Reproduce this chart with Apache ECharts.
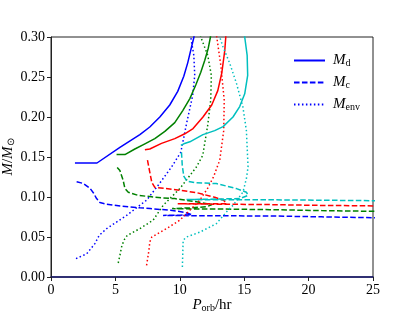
<!DOCTYPE html>
<html><head><meta charset="utf-8">
<script src="https://cdn.jsdelivr.net/npm/echarts@6/dist/echarts.min.js"></script>
<style>html,body{margin:0;padding:0;background:#fff}#c{width:415px;height:311px}</style>
</head><body><div id="c"></div>
<script>
// x ticks / y ticks
const xTicks = [0, 5, 10, 15, 20, 25];
const yTicks = [0.00, 0.05, 0.10, 0.15, 0.20, 0.25, 0.30];

// Blue track
const blueMd = [[1.86,0.1425],[3.57,0.1425],[5.35,0.162],[6.9,0.178],[7.67,0.1875],[8.45,0.200],[9.22,0.215],[9.84,0.232],[10.31,0.251],[10.62,0.268],[10.91,0.2875],[11.1,0.30],[11.16,0.306]];
const blueMc = [[1.99,0.119],[2.5,0.117],[3.02,0.111],[3.3,0.105],[3.54,0.098],[3.8,0.093],[4.3,0.091],[5.5,0.0885],[6.9,0.0865],[7.7,0.0855],[9.3,0.0834],[10.3,0.081],[10.95,0.078],[10.0,0.0772],[8.7,0.077],[9.5,0.0768],[13,0.0765],[17,0.0763],[21,0.0752],[25.5,0.074]];
const blueMenv = [[1.94,0.023],[2.77,0.029],[3.41,0.0417],[3.74,0.052],[4.32,0.0605],[5.87,0.077],[7.42,0.096],[8.32,0.1146],[9.36,0.1375],[10.08,0.156],[10.54,0.193],[11.0,0.227],[11.16,0.252],[11.09,0.277],[10.85,0.30],[10.8,0.306]];

// Green track
const greenMd = [[5.09,0.153],[5.74,0.153],[6.51,0.160],[7.29,0.1665],[8.06,0.173],[8.84,0.182],[9.61,0.193],[10.23,0.208],[10.78,0.223],[11.24,0.240],[11.63,0.256],[11.94,0.271],[12.21,0.286],[12.38,0.30],[12.42,0.306]];
const greenMc = [[5.14,0.137],[5.35,0.133],[5.6,0.121],[5.74,0.1105],[6.0,0.106],[6.77,0.102],[8.58,0.099],[9.61,0.098],[11.5,0.0935],[12.5,0.0905],[12.1,0.088],[11.0,0.0865],[9.4,0.0855],[10.5,0.0852],[14,0.0848],[17,0.0842],[21,0.083],[25.5,0.082]];
const greenMenv = [[5.22,0.0175],[5.35,0.027],[5.48,0.0375],[5.66,0.046],[5.92,0.052],[6.9,0.0605],[7.93,0.071],[8.71,0.0896],[10.0,0.1105],[11.29,0.1375],[11.78,0.152],[12.17,0.19],[12.4,0.221],[12.45,0.252],[12.17,0.277],[11.63,0.30],[11.55,0.306]];

// Red track
const redMd = [[7.29,0.159],[7.67,0.160],[8.58,0.167],[9.61,0.173],[10.39,0.179],[11.03,0.1855],[11.8,0.20],[12.48,0.215],[12.95,0.233],[13.26,0.255],[13.49,0.283],[13.57,0.30],[13.58,0.306]];
const redMc = [[7.49,0.146],[7.67,0.131],[7.83,0.118],[8.06,0.112],[9.46,0.1096],[11.3,0.1055],[12.71,0.0996],[13.41,0.096],[13.62,0.0915],[9.84,0.0915],[13,0.091],[16.97,0.0905],[21,0.0895],[25.5,0.0888]];
const redMenv = [[7.42,0.0146],[7.6,0.033],[7.67,0.0437],[7.83,0.05],[8.97,0.0605],[10.0,0.071],[10.78,0.0834],[11.55,0.096],[12.17,0.111],[12.64,0.126],[13.1,0.146],[13.41,0.183],[13.45,0.221],[13.18,0.265],[12.87,0.30],[12.8,0.306]];

// Cyan track
const cyanMd = [[10.08,0.1646],[10.31,0.1665],[10.78,0.169],[11.8,0.178],[12.71,0.183],[13.36,0.188],[14.13,0.200],[14.65,0.213],[15.04,0.229],[15.27,0.252],[15.23,0.277],[15.04,0.30],[15.0,0.306]];
const cyanMc = [[10.13,0.156],[10.19,0.1396],[10.31,0.126],[10.54,0.120],[11.16,0.118],[12.84,0.1168],[14.4,0.1105],[15.17,0.106],[15.3,0.102],[14.65,0.098],[10.52,0.0968],[13,0.0966],[16.98,0.0965],[21,0.096],[25.5,0.0953]];
const cyanMenv = [[10.2,0.0125],[10.26,0.046],[10.52,0.05],[11.55,0.056],[12.84,0.0667],[13.74,0.0834],[14.13,0.0896],[14.9,0.106],[15.17,0.123],[15.3,0.1375],[15.17,0.183],[14.9,0.2125],[14.4,0.242],[13.88,0.267],[13.36,0.2875],[13.1,0.30],[13.0,0.306]];

const legendNames = ['Md', 'Mc', 'Menv'];

const tracks = [
  {color:'#0000ff', md:blueMd, mc:blueMc, menv:blueMenv, legend:true},
  {color:'#008000', md:greenMd, mc:greenMc, menv:greenMenv},
  {color:'#ff0000', md:redMd, mc:redMc, menv:redMenv},
  {color:'#00bfbf', md:cyanMd, mc:cyanMc, menv:cyanMenv}
];
const dashes = {Md:'solid', Mc:[5.55,2.4], Menv:[1.5,2.475]};
const series = [];
tracks.forEach((t, k) => {
  [['Md', t.md], ['Mc', t.mc], ['Menv', t.menv]].forEach(([nm, d]) => {
    series.push({
      type:'line', name: t.legend ? nm : (nm + '_' + k), data:d, showSymbol:false, symbol:'none',
      smooth:false, clip:true, animation:false,
      lineStyle:{color:t.color, width:1.5, type:dashes[nm]},
      itemStyle:{color:t.color}, z:3
    });
  });
});

const serif = 'Liberation Serif';
const rich = {
  i:{fontFamily:serif, fontStyle:'italic', fontSize:15, color:'#000'},
  r:{fontFamily:serif, fontSize:15, color:'#000'},
  s:{fontFamily:serif, fontSize:10, color:'#000', padding:[6,0,0,0]}
};
const legendLabel = {Md:'{i|M}{s|d}', Mc:'{i|M}{s|c}', Menv:'{i|M}{s|env}'};

const chart = echarts.init(document.getElementById('c'), null, {renderer:'canvas'});
chart.setOption({
  animation:false,
  backgroundColor:'#fff',
  grid:{left:51, right:42, top:37, bottom:34, containLabel:false, outerBoundsMode:'none',
    show:true, borderColor:'#222', borderWidth:1, backgroundColor:'transparent'},
  legend:{data:legendNames, orient:'vertical', left:288, top:48, itemWidth:31, itemHeight:14, itemGap:6.5,
    itemStyle:{color:'rgba(0,0,0,0)', borderWidth:0, opacity:0},
    formatter:n => legendLabel[n], textStyle:{rich:rich, padding:[0,0,0,3]}},
  xAxis:{type:'value', min:xTicks[0], max:xTicks[xTicks.length-1], interval:5,
    name:'{i|P}{s|orb}{r|/hr}', nameLocation:'middle', nameGap:20, nameMoveOverlap:false, nameTextStyle:{rich:rich},
    axisLine:{show:true, onZero:false, lineStyle:{color:'#10106a', width:1.5}},
    axisTick:{show:true, inside:false, length:4, lineStyle:{color:'#222'}},
    axisLabel:{fontFamily:serif, fontSize:14, color:'#000', margin:6},
    splitLine:{show:false}},
  yAxis:{type:'value', min:yTicks[0], max:yTicks[yTicks.length-1], interval:0.05,
    name:'{i|M}{r|/}{i|M}{s|⊙}', nameLocation:'middle', nameGap:35, nameMoveOverlap:false, nameRotate:90, nameTextStyle:{rich:rich},
    axisLine:{show:true, lineStyle:{color:'#222', width:1}},
    axisTick:{show:true, inside:false, length:4, lineStyle:{color:'#222'}},
    axisLabel:{fontFamily:serif, fontSize:14, color:'#000', margin:6, formatter:v => v.toFixed(2)},
    splitLine:{show:false}},
  series:series
});
</script></body></html>
